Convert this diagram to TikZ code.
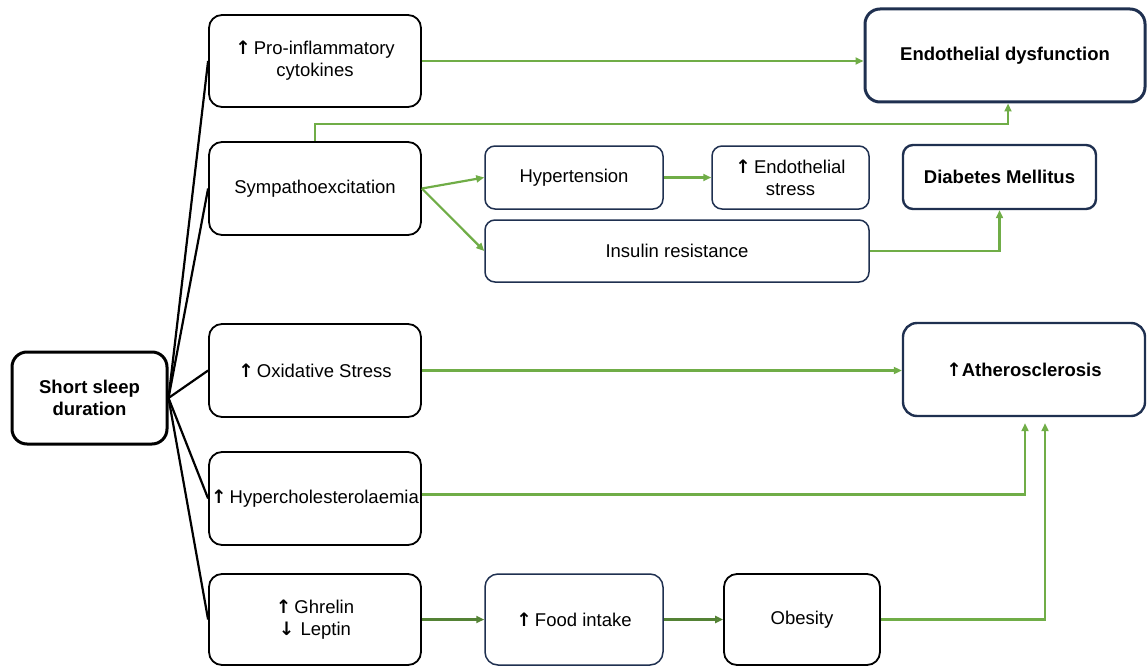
\documentclass[tikz,border=0pt]{standalone}
\usepackage{fontspec}
\setmainfont{Liberation Sans}
\newfontfamily\symfont{DejaVu Sans}
\usetikzlibrary{arrows.meta,calc}
\definecolor{navy}{HTML}{1F3050}
\definecolor{lgreen}{HTML}{70AD47}
\definecolor{dgreen}{HTML}{548235}
\newcommand\upar{{\symfont\bfseries ↑}}
\newcommand\downar{{\symfont\bfseries ↓}}
\begin{document}
\begin{tikzpicture}[x=1pt,y=-1pt,
  box/.style={draw=black,line width=1.8pt,rounded corners=13pt,align=center,inner sep=0pt,
    font=\fontsize{18.5}{22}\selectfont},
  nbox/.style={box,draw=navy,line width=1.5pt,rounded corners=10pt},
  bbox/.style={box,draw=navy,line width=2.4pt,font=\fontsize{18.5}{22}\selectfont\bfseries},
  sz/.style 2 args={minimum width=#1pt,minimum height=#2pt},
  blk/.style={draw=black,line width=2.2pt},
  garr/.style={draw=lgreen,line width=2.2pt,-{Triangle[length=8pt,width=7pt]}},
  darr/.style={garr,draw=dgreen,-{Triangle[length=8pt,width=7pt,fill=lgreen]}}
]
\useasboundingbox (0,0) rectangle (1147,666);
% nodes
\node[box,line width=3pt,rounded corners=15pt,sz={155}{92},font=\fontsize{18.5}{22}\selectfont\bfseries] (short) at (89.5,398) {Short sleep\\duration};
\node[box,sz={212}{92}] (pro) at (315,61) {\upar\,Pro-inflammatory\\cytokines};
\node[box,sz={212}{93}] (symp) at (315,188.5) {\raisebox{3pt}{Sympathoexcitation}};
\node[box,sz={212}{93}] (oxid) at (315,370.5) {\upar\,Oxidative Stress};
\node[box,sz={212}{93}] (hyper) at (315,498.5) {\raisebox{4pt}{\upar\,Hypercholesterolaemia}};
\node[box,sz={212}{91}] (ghrel) at (315,619.5) {\upar\,Ghrelin\\\downar\,\,Leptin};
\node[bbox,line width=3pt,rounded corners=15pt,sz={280}{93}] (endo) at (1005,55.5) {Endothelial dysfunction};
\node[nbox,sz={178}{63}] (htn) at (574,177.5) {Hypertension};
\node[nbox,sz={157}{63}] (est) at (790.5,177.5) {\upar\,Endothelial\\stress};
\node[bbox,rounded corners=10pt,sz={193}{64}] (diab) at (999.5,177) {\raisebox{1pt}{Diabetes Mellitus}};
\node[nbox,sz={384}{62}] (ins) at (677,251) {Insulin resistance};
\node[bbox,rounded corners=14pt,sz={242}{93}] (ath) at (1024,369.5) {\upar Atherosclerosis};
\node[nbox,rounded corners=13pt,sz={178}{91}] (food) at (574,619.5) {\upar\,Food intake};
\node[box,sz={156}{91}] (obes) at (802,619.5) {Obesity};
\coordinate (a1) at ($(ath.south)+(1,6)$);
\coordinate (a2) at ($(ath.south)+(21,6)$);
% black connectors
\foreach \n in {pro,symp,oxid,hyper,ghrel}
  \draw[blk] (short.east) -- (\n.west);
% green connectors
\draw[garr] (pro.east) -- (pro.east -| endo.west);
\draw[garr] (symp.north) -- ++(0,-17) -| ($(endo.south)+(3,0)$);
\draw[garr] (symp.east) -- (htn.west);
\draw[garr] (symp.east) -- (ins.west);
\draw[garr] (htn.east) -- (est.west);
\draw[garr] (ins.east) -| (diab.south);
\draw[garr] (oxid.east) -- (oxid.east -| ath.west);
\draw[garr] ($(hyper.east)+(0,-4)$) -| (a1);
\draw[darr] (ghrel.east) -- (food.west);
\draw[darr] (food.east) -- (obes.west);
\draw[garr] (obes.east) -| (a2);
\end{tikzpicture}
\end{document}
